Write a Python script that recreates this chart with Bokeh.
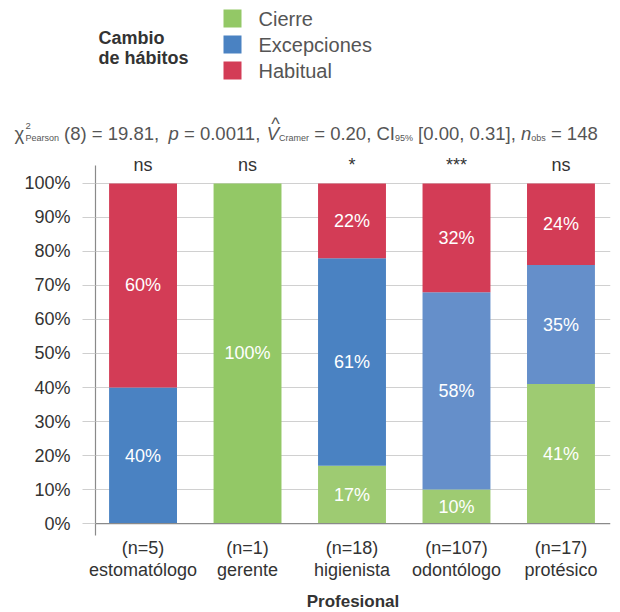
from bokeh.plotting import figure
from bokeh.models import (Range1d, FixedTicker, NumeralTickFormatter, ColumnDataSource, Span)
from bokeh.core.properties import value
from bokeh.embed import file_html
from bokeh.resources import INLINE

# ---------------- data ----------------
categories = ["estomatólogo", "gerente", "higienista", "odontólogo", "protésico"]
n_obs = [5, 1, 18, 107, 17]
series = ["Cierre", "Excepciones", "Habitual"]
cierre = [0.00, 1.00, 0.17, 0.10, 0.41]
excepciones = [0.40, 0.00, 0.61, 0.58, 0.35]
habitual = [0.60, 0.00, 0.22, 0.32, 0.24]
significance = ["ns", "ns", "*", "***", "ns"]
y_ticks = [0.0, 0.1, 0.2, 0.3, 0.4, 0.5, 0.6, 0.7, 0.8, 0.9, 1.0]

# ---------------- style ----------------
FONT = "Liberation Sans"
series_colors = ["#93c866", "#4a82c2", "#d33c56"]
green_shades = ["#93c866", "#93c866", "#9ecb72", "#9ecb72", "#9ecb72"]
blue_shades = ["#4a82c2", "#4a82c2", "#4a82c2", "#658fca", "#658fca"]
red_shades = ["#d33c56"] * 5
DARK = "#333333"
LIGHT = "#555555"

FRAME_L, FRAME_W = 95, 515
HDR_W, HDR_H = 612, 148

# ---------------- header (legend + statistics subtitle) ----------------
# separate root; its data units equal page pixels
hdr = figure(width=HDR_W, height=HDR_H, x_range=Range1d(0, HDR_W), y_range=Range1d(HDR_H, 0),
             output_backend="svg", toolbar_location=None, min_border=0,
             x_axis_type=None, y_axis_type=None)
hdr.outline_line_color = None
hdr.xgrid.visible = False
hdr.ygrid.visible = False

# legend title
hdr.text(x=[98, 98], y=[37, 57], text=["Cambio", "de hábitos"],
         text_font=value(FONT), text_font_size="18px", text_font_style="bold",
         text_color=DARK, text_baseline="alphabetic", text_align="left")
# legend swatches + labels
leg_y = [18, 44, 70]
hdr.scatter(x=[232] * 3, y=leg_y, marker="square", size=18, color=series_colors, line_color=None)
hdr.text(x=[258] * 3, y=leg_y, text=series, text_font=value(FONT), text_font_size="20px",
         text_color=LIGHT, text_baseline="middle", text_align="left")

# statistics subtitle pieces: (text, x, kind)
pieces = [
    ("χ", 14, "main"), ("2", 25, "sup"), ("Pearson", 25, "sub"),
    ("(8) = 19.81,", 63.6, "main"), ("p", 168.1, "ital"), ("= 0.0011,", 183.5, "main"),
    ("V", 266.3, "ital"), ("Cramer", 278.6, "sub"), ("= 0.20, CI", 313.7, "main"),
    ("95%", 394.5, "sub"), ("[0.00, 0.31],", 417.6, "main"), ("n", 520.5, "ital"),
    ("obs", 530.8, "sub"), ("= 148", 550.4, "main"),
]
BASE = 133
kinds = {"main": ("18.5px", 0, "normal"), "ital": ("18.5px", 0, "italic"),
         "sub": ("9px", 4, "normal"), "sup": ("9.5px", -8, "normal")}
for kind, (size, dy, style) in kinds.items():
    sel = [pc for pc in pieces if pc[2] == kind]
    hdr.text(x=[pc[1] for pc in sel], y=[BASE + dy] * len(sel), text=[pc[0] for pc in sel],
             text_font=value(FONT), text_font_size=size, text_font_style=style,
             text_color=LIGHT, text_baseline="alphabetic", text_align="left")
# hat over V
hdr.text(x=[275], y=[123], text=["^"], text_font=value(FONT), text_font_size="18px",
         text_color=LIGHT, text_baseline="alphabetic", text_align="center")

# ---------------- main chart ----------------
x = list(range(len(categories)))
src = ColumnDataSource(dict(x=x, Cierre=cierre, Excepciones=excepciones, Habitual=habitual,
                            c_green=green_shades, c_blue=blue_shades, c_red=red_shades))

p = figure(frame_width=FRAME_W, frame_height=380, x_range=Range1d(-0.455, 4.474),
           y_range=Range1d(-0.035, 1.082), output_backend="svg", toolbar_location=None,
           min_border_left=FRAME_L, min_border_right=2, min_border_top=7, min_border_bottom=0)
p.outline_line_color = None

p.vbar_stack(series, x="x", width=0.65, source=src,
             color=["c_green", "c_blue", "c_red"], line_color=None)

# in-bar percentage labels
lx, ly, lt = [], [], []
for i in x:
    base = 0.0
    for vals in (cierre, excepciones, habitual):
        v = vals[i]
        if v > 0:
            lx.append(i)
            ly.append(base + v / 2)
            lt.append(f"{round(v * 100)}%")
        base += v
p.text(x=lx, y=ly, text=lt, text_font=value(FONT), text_font_size="18px",
       text_color="white", text_align="center", text_baseline="middle")

# significance labels above bars
p.text(x=x, y=[1.053] * len(x), text=significance, text_font=value(FONT), text_font_size="18px",
       text_color=DARK, text_align="center", text_baseline="alphabetic")

# y axis
p.yaxis.ticker = FixedTicker(ticks=y_ticks)
p.yaxis.formatter = NumeralTickFormatter(format="0%")
p.yaxis.bounds = (-0.035, 1.053)
p.yaxis.axis_line_color = "#8a8a8a"
p.yaxis.axis_line_width = 1.2
p.yaxis.major_tick_out = 13
p.yaxis.major_tick_in = 0
p.yaxis.major_tick_line_color = "#cfcfcf"
p.yaxis.minor_tick_line_color = None
p.yaxis.major_label_standoff = 12
p.yaxis.major_label_text_font = FONT
p.yaxis.major_label_text_font_size = "18px"
p.yaxis.major_label_text_color = DARK

p.ygrid.ticker = FixedTicker(ticks=y_ticks[1:])
p.ygrid.grid_line_color = "#d0d0d0"
p.ygrid.grid_line_width = 1
p.xgrid.visible = False
p.add_layout(Span(location=0, dimension="width", line_color="#8a8a8a", line_width=1.2))

# x axis
p.xaxis.ticker = FixedTicker(ticks=x)
p.xaxis.major_label_overrides = {i: f"(n={n_obs[i]})\n{categories[i]}" for i in x}
p.xaxis.axis_line_color = None
p.xaxis.major_tick_line_color = None
p.xaxis.major_tick_out = 0
p.xaxis.major_tick_in = 0
p.xaxis.minor_tick_line_color = None
p.xaxis.major_label_standoff = 2
p.xaxis.major_label_text_line_height = 1.12
p.xaxis.major_label_text_font = FONT
p.xaxis.major_label_text_font_size = "18px"
p.xaxis.major_label_text_color = DARK
p.xaxis.axis_label = "Profesional"
p.xaxis.axis_label_standoff = 9
p.xaxis.axis_label_text_font = FONT
p.xaxis.axis_label_text_font_size = "17px"
p.xaxis.axis_label_text_font_style = "bold"
p.xaxis.axis_label_text_color = DARK

open("out.html", "w").write(file_html([hdr, p], INLINE))
